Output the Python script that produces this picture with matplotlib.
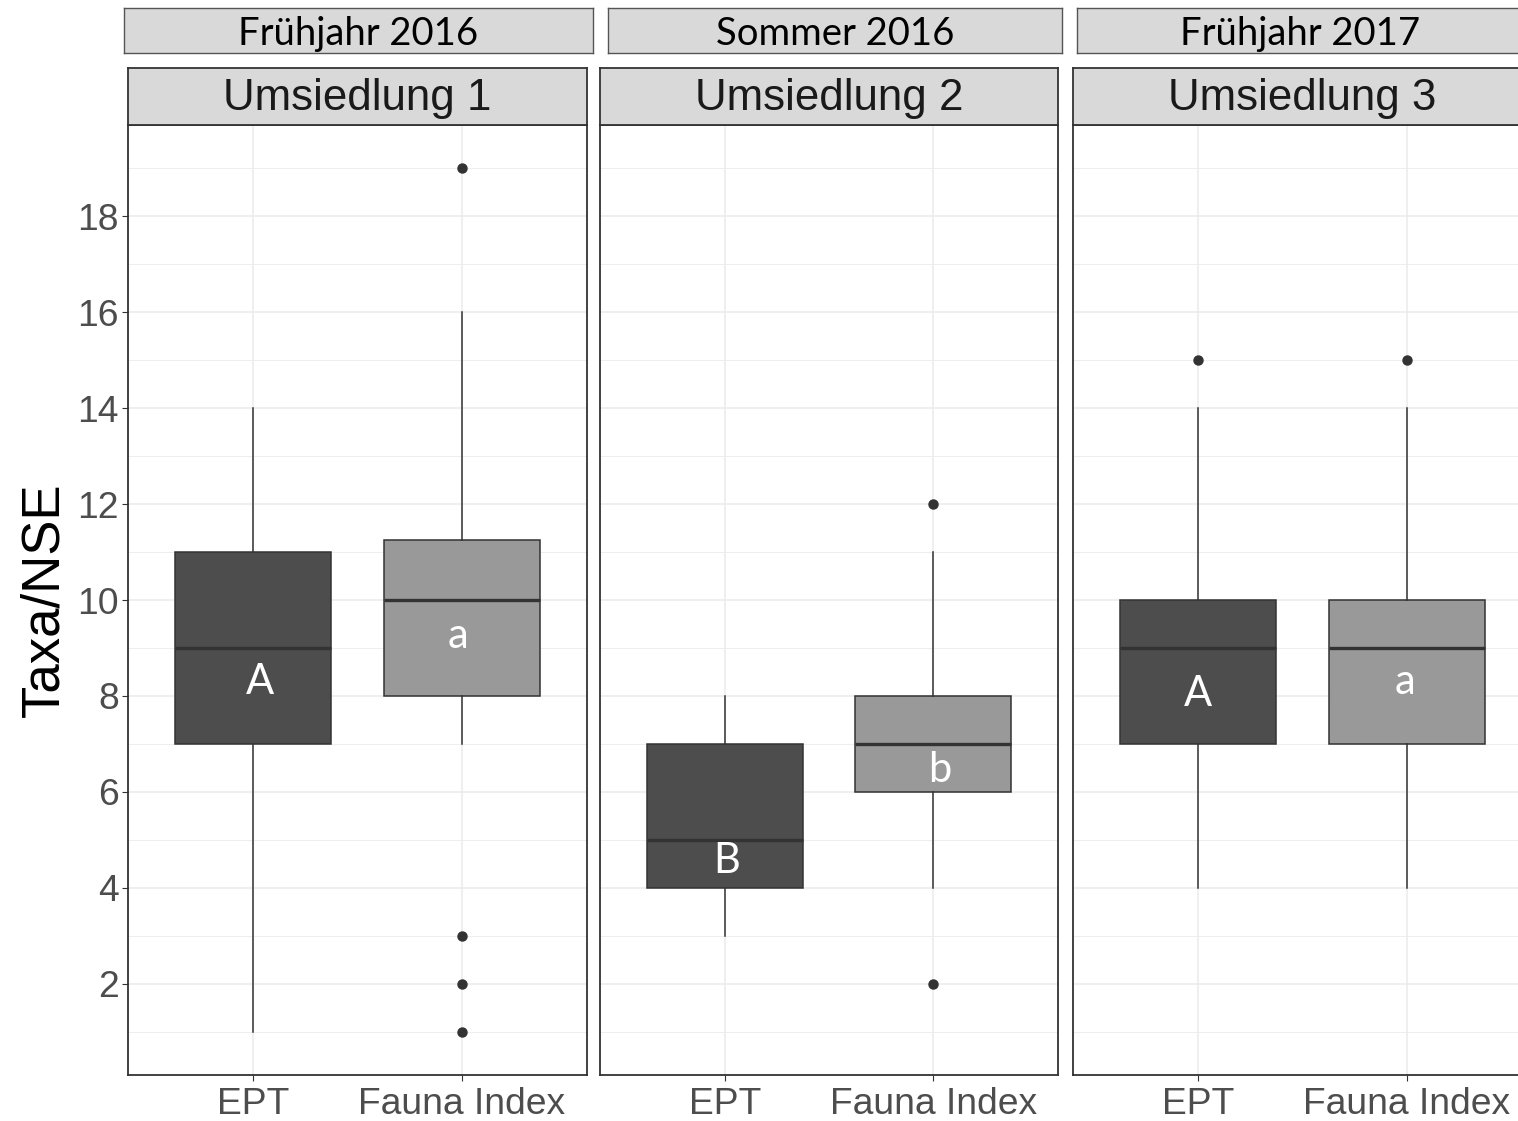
import numpy as np
import matplotlib
matplotlib.use("Agg")
import matplotlib.pyplot as plt

# data
seasons = ["Frühjahr 2016", "Sommer 2016", "Frühjahr 2017"]
panels = ["Umsiedlung 1", "Umsiedlung 2", "Umsiedlung 3"]
groups = ["EPT", "Fauna Index"]

# per panel: [EPT, Fauna Index]
q1 = [[7, 8], [4, 6], [7, 7]]
med = [[9, 10], [5, 7], [9, 9]]
q3 = [[11, 11.25], [7, 8], [10, 10]]
whis_lo = [[1, 7], [3, 4], [4, 4]]
whis_hi = [[14, 16], [8, 11], [14, 14]]
fliers = [[[], [19, 3, 2, 1]], [[], [12, 2]], [[15], [15]]]

letters = [["A", "a"], ["B", "b"], ["A", "a"]]
letter_x = [[1.03, 1.98], [1.01, 2.03], [1.0, 1.99]]
letter_y = [[8.3, 9.25], [4.55, 6.45], [8.05, 8.3]]

fills = ["#4D4D4D", "#999999"]
line_col = "#333333"

W, H = 1518, 1121
fig = plt.figure(figsize=(W / 100, H / 100), dpi=100)


def rect(x0, y0, x1, y1):
    return [x0 / W, 1 - y1 / H, (x1 - x0) / W, (y1 - y0) / H]


panel_x = [(128, 587), (600, 1058), (1073, 1532)]
outer_x = [(124, 593), (608, 1062), (1077, 1540)]

for i in range(3):
    x0, x1 = panel_x[i]
    ax = fig.add_axes(rect(x0, 125, x1, 1075))

    stats = []
    for g in range(2):
        stats.append(dict(q1=q1[i][g], med=med[i][g], q3=q3[i][g],
                          whislo=whis_lo[i][g], whishi=whis_hi[i][g],
                          fliers=fliers[i][g]))
    bp = ax.bxp(stats, positions=[1, 2], widths=0.75, patch_artist=True,
                showcaps=False, manage_ticks=False,
                boxprops=dict(edgecolor=line_col, lw=1.1),
                whiskerprops=dict(color=line_col, lw=1.1),
                medianprops=dict(color=line_col, lw=2.4),
                flierprops=dict(marker="o", markersize=6.5, markerfacecolor=line_col,
                                markeredgecolor=line_col))
    for patch, c in zip(bp["boxes"], fills):
        patch.set_facecolor(c)

    ax.set_xlim(0.4, 2.6)
    ax.set_ylim(0.1, 19.9)
    ax.set_yticks(np.arange(2, 20, 2))
    ax.set_yticks(np.arange(1, 20, 2), minor=True)
    ax.set_xticks([1, 2])
    ax.grid(True, which="major", color="#EBEBEB", lw=1.1)
    ax.grid(True, which="minor", axis="y", color="#EBEBEB", lw=0.6)
    ax.set_axisbelow(True)

    for g in range(2):
        ax.text(letter_x[i][g], letter_y[i][g], letters[i][g], color="white",
                fontsize=30, family="Lato", ha="center", va="center")

    for s in ax.spines.values():
        s.set_color(line_col)
        s.set_linewidth(1.3)
    ax.tick_params(axis="both", which="major", length=4.5, color=line_col,
                   labelsize=26.8, labelcolor="#4D4D4D", pad=2)
    ax.tick_params(axis="x", pad=4)
    ax.tick_params(axis="y", which="minor", length=0)
    ax.set_xticklabels(groups, family="Liberation Sans")
    if i == 0:
        ax.set_yticklabels([str(v) for v in range(2, 20, 2)], family="Liberation Sans")
        ax.set_ylabel("Taxa/NSE", fontsize=38, family="Liberation Sans",
                      color="black", labelpad=6)
    else:
        ax.tick_params(axis="y", left=False, labelleft=False)

    # facet strip
    st = fig.add_axes(rect(x0, 68, x1, 125))
    st.set_facecolor("#D9D9D9")
    st.set_xticks([])
    st.set_yticks([])
    for s in st.spines.values():
        s.set_color(line_col)
        s.set_linewidth(1.3)
    st.text(0.5, 0.47, panels[i], transform=st.transAxes, ha="center", va="center",
            fontsize=31.6, family="Liberation Sans", color="#1A1A1A")

    # season strip on top
    ox0, ox1 = outer_x[i]
    os_ = fig.add_axes(rect(ox0, 8, ox1, 53))
    os_.set_facecolor("#D9D9D9")
    os_.set_xticks([])
    os_.set_yticks([])
    for s in os_.spines.values():
        s.set_color("#555555")
        s.set_linewidth(1.0)
    tx = 0.5 if i < 2 else (1300 - ox0) / (ox1 - ox0)
    os_.text(tx, 0.42, seasons[i], transform=os_.transAxes, ha="center", va="center",
             fontsize=27.5, family="Lato", color="black")

fig.savefig("out.png", dpi=100)
